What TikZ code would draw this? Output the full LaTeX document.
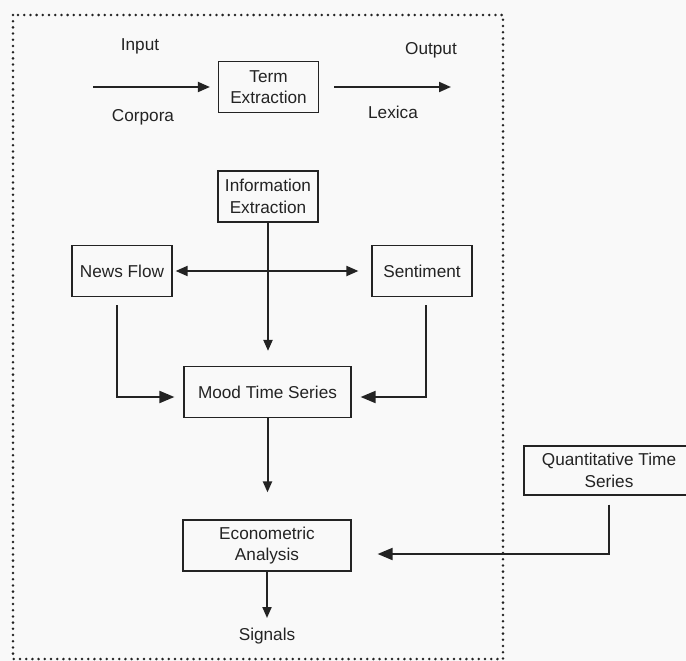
\documentclass[tikz,border=0pt]{standalone}
\usepackage{fontspec}
\setmainfont{Liberation Sans}
\usetikzlibrary{arrows.meta}
\definecolor{ink}{RGB}{35,35,35}
\definecolor{paper}{RGB}{249,249,249}
\begin{document}
\begin{tikzpicture}[x=1pt,y=-1pt,
  font=\fontsize{17.2}{21.5}\selectfont, text=ink,
  box/.style={draw=ink, line width=1.2pt, inner sep=0pt, align=center,
              minimum width=#1, minimum height=51pt},
  box/.default=100pt,
  label/.style={inner sep=0pt},
  conn/.style={draw=ink, line width=2pt},
  harrow/.style={conn, -{Triangle[length=12pt,width=10pt]}},
  darrow/.style={conn, {Triangle[length=12pt,width=10pt]}-{Triangle[length=12pt,width=10pt]}},
  varrow/.style={conn, -{Triangle[length=11pt,width=9pt]}},
  elbow/.style={conn, -{Triangle[length=15pt,width=12pt]}},
  frame/.style={draw=ink, line width=2.8pt, line cap=round, dash pattern=on 0pt off 6.2pt}]

% page and background
\fill[paper] (0,0) rectangle (686,661);
\useasboundingbox (0,0) rectangle (686,661);

% dotted system boundary
\draw[frame] (13,15) rectangle (503,659);

% boxes
\node[box] (te)   at (268.5,87)  {Term\\Extraction};
\node[box] (ie)   at (268,196.5) {Information\\Extraction};
\node[box] (nf)   at (122,271)   {News Flow};
\node[box] (se)   at (422,271)   {Sentiment};
\node[box=167pt] (mood) at (267.5,392) {Mood Time Series};
\node[box=168pt] (econ) at (267,545.5) {Econometric\\Analysis};
\node[box=170pt, minimum height=49pt] (qts) at (609,470.5) {Quantitative Time\\Series};

% free text
\node[label] (inlab)  at (140,46)  {Input};
\node[label] (corp)   at (143,117) {Corpora};
\node[label] (outlab) at (431,50)  {Output};
\node[label] (lex)    at (393,112) {Lexica};
\node[label] (sig)    at (267,636) {Signals};

% free ends of the term extraction arrows
\coordinate (inp)  at (93,87);
\coordinate (outp) at (451,87);

% term extraction flow
\draw[harrow, shorten >=8pt] (inp) -- (te.west);
\draw[harrow, shorten <=15pt] (te.east) -- (outp);

% information extraction branches
\draw[darrow, shorten <=3pt, shorten >=13pt] (nf.east) -- (se.west);
\draw[varrow, shorten >=15pt] (ie.south) -- (ie.south |- mood.north);

% news flow and sentiment into mood time series
\draw[elbow, shorten >=9pt] ([xshift=-5pt,yshift=-8pt]nf.south) |- ([yshift=-5pt]mood.west);
\draw[elbow, shorten >=9pt] ([xshift=4pt,yshift=-8pt]se.south) |- ([yshift=-5pt]mood.east);

% mood time series to econometric analysis to signals
\draw[varrow, shorten >=27pt] (mood.south) -- (mood.south |- econ.north);
\draw[varrow] (econ.south) -- ([yshift=18pt]sig.center);

% quantitative time series into econometric analysis
\draw[elbow, shorten >=26pt] ([yshift=-9pt]qts.south) |- ([yshift=-8.5pt]econ.east);
\end{tikzpicture}
\end{document}
